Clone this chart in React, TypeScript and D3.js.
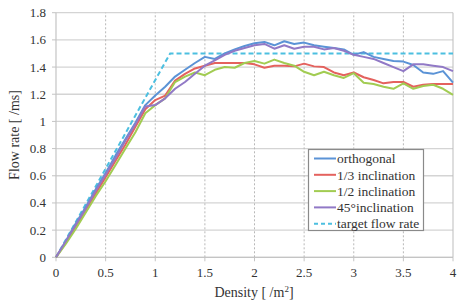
import React from 'react';
import * as d3 from 'd3';

const density = [
  0, 0.1, 0.2, 0.3, 0.4, 0.5, 0.6, 0.7, 0.8, 0.9,
  1.0, 1.1, 1.2, 1.3, 1.4, 1.5, 1.6, 1.7, 1.8, 1.9,
  2.0, 2.1, 2.2, 2.3, 2.4, 2.5, 2.6, 2.7, 2.8, 2.9,
  3.0, 3.1, 3.2, 3.3, 3.4, 3.5, 3.6, 3.7, 3.8, 3.9, 4.0,
];

const orthogonal = [
  0, 0.12, 0.25, 0.37, 0.5, 0.62, 0.75, 0.87, 0.99, 1.12,
  1.19, 1.255, 1.33, 1.38, 1.43, 1.475, 1.46, 1.5, 1.53, 1.555,
  1.575, 1.585, 1.56, 1.59, 1.57, 1.58, 1.56, 1.55, 1.54, 1.53,
  1.49, 1.51, 1.475, 1.46, 1.445, 1.44, 1.415, 1.36, 1.35, 1.37, 1.285,
];

const incl13 = [
  0, 0.11, 0.23, 0.35, 0.47, 0.59, 0.71, 0.83, 0.96, 1.09,
  1.157, 1.19, 1.3, 1.35, 1.39, 1.41, 1.43, 1.43, 1.43, 1.43,
  1.42, 1.395, 1.41, 1.41, 1.405, 1.425, 1.405, 1.4, 1.36, 1.34,
  1.36, 1.325, 1.305, 1.28, 1.29, 1.29, 1.255, 1.27, 1.275, 1.275, 1.275,
];

const incl12 = [
  0, 0.1, 0.21, 0.33, 0.45, 0.56, 0.68, 0.8, 0.92, 1.06,
  1.12, 1.17, 1.29, 1.33, 1.36, 1.34, 1.38, 1.4, 1.395, 1.43,
  1.445, 1.425, 1.455, 1.43, 1.41, 1.365, 1.34, 1.365, 1.34, 1.32,
  1.355, 1.285, 1.275, 1.255, 1.24, 1.28, 1.24, 1.26, 1.27, 1.24, 1.195,
];

const incl45 = [
  0, 0.12, 0.24, 0.36, 0.49, 0.61, 0.73, 0.86, 0.98, 1.11,
  1.12, 1.17, 1.24, 1.29, 1.35, 1.41, 1.45, 1.49, 1.52, 1.54,
  1.56, 1.57, 1.535, 1.56, 1.535, 1.55, 1.55, 1.53, 1.54, 1.52,
  1.49, 1.475, 1.46, 1.43, 1.4, 1.37, 1.42, 1.42, 1.41, 1.4, 1.37,
];

const targetX = [0, 1.15, 4];
const targetY = [0, 1.5, 1.5];

const xTicks = [0, 0.5, 1, 1.5, 2, 2.5, 3, 3.5, 4];
const yTicks = [0, 0.2, 0.4, 0.6, 0.8, 1, 1.2, 1.4, 1.6, 1.8];

const series = [
  { name: 'orthogonal', values: orthogonal, color: '#5b93d6' },
  { name: '1/3 inclination', values: incl13, color: '#e4625e' },
  { name: '1/2 inclination', values: incl12, color: '#a2cc52' },
  { name: '45°inclination', values: incl45, color: '#9179c6' },
];

const W = 457;
const H = 303;
const margin = { top: 12.7, right: 4, bottom: 45.7, left: 56 };
const font = "'Liberation Serif', 'DejaVu Serif', serif";
const txt = { fontFamily: font };

export default function App() {
  const x = d3.scaleLinear().domain([0, 4]).range([margin.left, W - margin.right]);
  const y = d3.scaleLinear().domain([0, 1.8]).range([H - margin.bottom, margin.top]);

  const line = d3
    .line<[number, number]>()
    .x((d) => x(d[0]))
    .y((d) => y(d[1]));

  const legendItems = [
    ...series.map((s) => ({ name: s.name, color: s.color, dash: undefined as string | undefined })),
    { name: 'target flow rate', color: '#4cbfe0', dash: '4,3' },
  ];

  return (
    <svg
      width={W}
      height={H}
      style={{ position: 'absolute', left: 0, top: 0, background: '#fff', fontFamily: font }}
    >
      {/* horizontal grid */}
      {yTicks.map((t) => (
        <line
          key={'h' + t}
          x1={x(0)}
          x2={x(4)}
          y1={y(t)}
          y2={y(t)}
          stroke="#d4d4d4"
          strokeWidth={1.3}
        />
      ))}
      {/* vertical grid */}
      {xTicks.slice(1).map((t) => (
        <line
          key={'v' + t}
          x1={x(t)}
          x2={x(t)}
          y1={y(0)}
          y2={y(1.8)}
          stroke={t === 4 ? '#bdbdbd' : '#b8b8b8'}
          strokeWidth={1}
          strokeDasharray={t === 4 ? undefined : '2,2'}
        />
      ))}
      {/* axes */}
      <line x1={x(0)} x2={x(0)} y1={y(0)} y2={y(1.8)} stroke="#c4c4c4" strokeWidth={1.2} />
      <line x1={x(0)} x2={x(4)} y1={y(0)} y2={y(0)} stroke="#c4c4c4" strokeWidth={1.2} />
      {yTicks.map((t) => (
        <g key={'yt' + t}>
          <line x1={x(0) - 4} x2={x(0)} y1={y(t)} y2={y(t)} stroke="#c4c4c4" />
          <text
            x={x(0) - 10}
            y={y(t)}
            dy="0.35em"
            textAnchor="end"
            fontSize={13}
            fill="#333"
            style={txt}
          >
            {t}
          </text>
        </g>
      ))}
      {xTicks.map((t) => (
        <g key={'xt' + t}>
          <line x1={x(t)} x2={x(t)} y1={y(0)} y2={y(0) + 4} stroke="#c4c4c4" />
          <text x={x(t)} y={y(0) + 20} textAnchor="middle" fontSize={13} fill="#333" style={txt}>
            {t}
          </text>
        </g>
      ))}

      {/* target */}
      <path
        d={line(targetX.map((d, i) => [d, targetY[i]] as [number, number])) || ''}
        fill="none"
        stroke="#4cbfe0"
        strokeWidth={2}
        strokeDasharray="5,3"
      />
      {/* series */}
      {series.map((s) => (
        <path
          key={s.name}
          d={line(density.map((d, i) => [d, s.values[i]] as [number, number])) || ''}
          fill="none"
          stroke={s.color}
          strokeWidth={2}
          strokeLinejoin="round"
        />
      ))}

      {/* legend */}
      <rect x={308.5} y={149.5} width={115} height={81} fill="#fff" stroke="#8a8a8a" strokeWidth={1.2} />
      {legendItems.map((it, i) => (
        <g key={it.name} transform={`translate(314,${158.5 + i * 16.3})`}>
          <line x1={0} x2={22} y1={0} y2={0} stroke={it.color} strokeWidth={2} strokeDasharray={it.dash} />
          <text x={23} y={0} dy="0.35em" fontSize={13.5} fill="#333" style={txt}>
            {it.name}
          </text>
        </g>
      ))}

      {/* axis titles */}
      <text x={254} y={297} textAnchor="middle" fontSize={14} fill="#333" style={txt}>
        Density [ /m<tspan dy="-5" fontSize={9}>2</tspan>
        <tspan dy="5">]</tspan>
      </text>
      <text
        transform={`translate(19,${(y(0) + y(1.8)) / 2}) rotate(-90)`}
        textAnchor="middle"
        fontSize={14}
        fill="#333"
        style={txt}
      >
        Flow rate [ /ms]
      </text>
    </svg>
  );
}
